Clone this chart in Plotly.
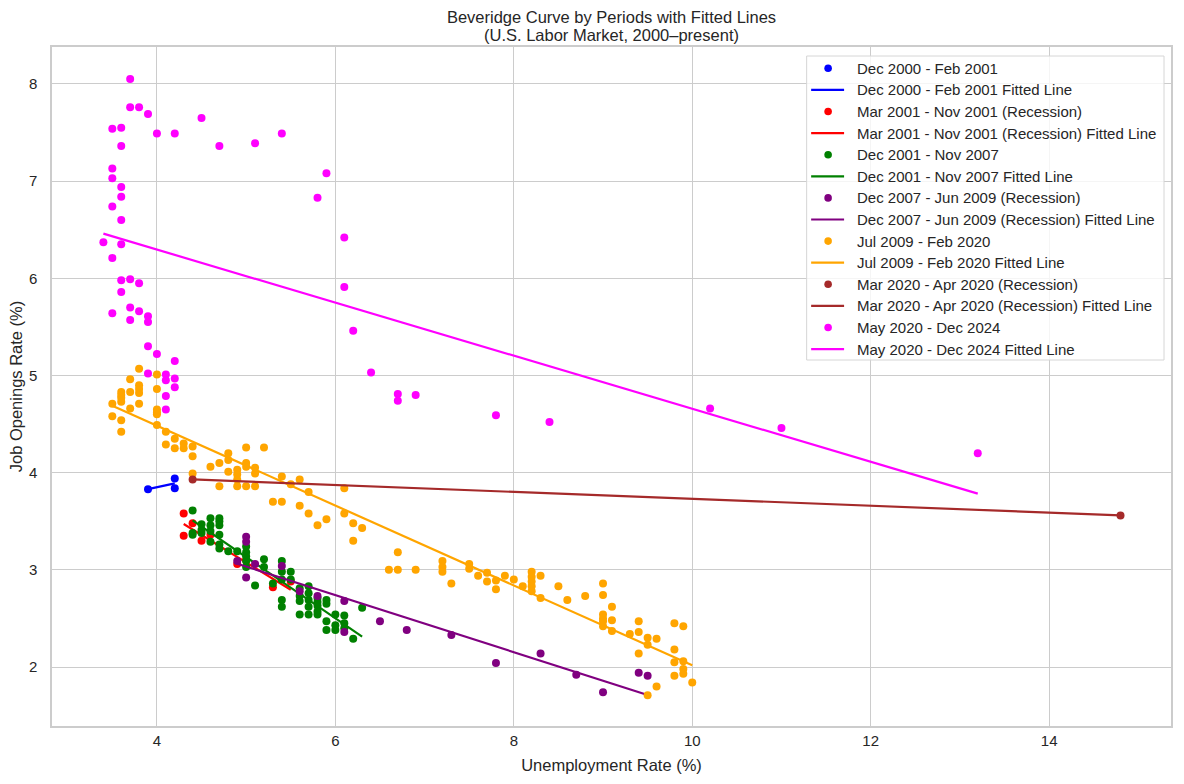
import numpy as np
import plotly.graph_objects as go

# ---- data (unemployment rate %, job openings rate %) ----
labels = [
    "Dec 2000 - Feb 2001",
    "Mar 2001 - Nov 2001 (Recession)",
    "Dec 2001 - Nov 2007",
    "Dec 2007 - Jun 2009 (Recession)",
    "Jul 2009 - Feb 2020",
    "Mar 2020 - Apr 2020 (Recession)",
    "May 2020 - Dec 2024",
]
colors = ["blue", "red", "green", "purple", "orange", "brown", "magenta"]

blue_x = [3.9, 4.2, 4.2]
blue_y = [3.83, 3.94, 3.84]

red_x = [4.3, 4.4, 4.3, 4.5, 4.6, 4.9, 5.0, 5.3, 5.5]
red_y = [3.58, 3.48, 3.35, 3.30, 3.36, 3.06, 3.10, 2.82, 2.88]

green_x = [4.4, 4.4, 4.4, 4.5, 4.5, 4.5, 4.6, 4.6, 4.6, 4.6,
           4.7, 4.7, 4.7, 4.7, 4.7, 4.7, 4.8, 4.9, 5.0, 5.0,
           5.0, 5.0, 5.0, 5.1, 5.2, 5.2, 5.3, 5.4, 5.4, 5.4,
           5.4, 5.4, 5.5, 5.5, 5.6, 5.6, 5.6, 5.6, 5.7, 5.7,
           5.7, 5.7, 5.7, 5.8, 5.8, 5.8, 5.8, 5.8, 5.9, 5.9,
           5.9, 5.9, 6.0, 6.0, 6.0, 6.1, 6.1, 6.1, 6.2, 6.3]
green_y = [3.61, 3.38, 3.36, 3.47, 3.41, 3.38, 3.53, 3.46, 3.40, 3.29,
           3.53, 3.50, 3.46, 3.36, 3.26, 3.22, 3.19, 3.19, 3.24, 3.18,
           3.14, 3.09, 3.03, 2.84, 3.11, 3.03, 2.86, 3.09, 2.98, 2.90,
           2.69, 2.62, 2.98, 2.90, 2.81, 2.73, 2.68, 2.54, 2.83, 2.76,
           2.69, 2.62, 2.54, 2.71, 2.67, 2.63, 2.57, 2.54, 2.69, 2.65,
           2.47, 2.38, 2.54, 2.43, 2.38, 2.53, 2.45, 2.40, 2.29, 2.61]

purple_x = [5.0, 5.0, 4.9, 5.1, 5.0, 5.4, 5.6, 5.8, 6.1, 6.1,
            6.5, 6.8, 7.3, 7.8, 8.3, 8.7, 9.0, 9.4, 9.5]
purple_y = [3.34, 3.29, 3.09, 3.06, 2.92, 3.04, 2.78, 2.73, 2.68, 2.36,
            2.47, 2.38, 2.33, 2.04, 2.14, 1.92, 1.74, 1.94, 1.91]

orange_x = [3.5, 3.5, 3.6, 3.6, 3.6, 3.6, 3.6, 3.6, 3.7, 3.7,
            3.7, 3.8, 3.8, 3.8, 3.8, 3.8, 4.0, 4.0, 4.0, 4.0,
            4.0, 4.0, 4.1, 4.1, 4.2, 4.2, 4.3, 4.3, 4.4, 4.4,
            4.4, 4.6, 4.7, 4.7, 4.8, 4.8, 4.8, 4.9, 4.9, 4.9,
            4.9, 5.0, 5.0, 5.0, 5.0, 5.1, 5.1, 5.1, 5.2, 5.3,
            5.4, 5.4, 5.5, 5.6, 5.6, 5.7, 5.7, 5.8, 5.9, 6.1,
            6.1, 6.2, 6.2, 6.3, 6.6, 6.7, 6.7, 6.9, 7.2, 7.2,
            7.2, 7.3, 7.5, 7.5, 7.6, 7.7, 7.7, 7.8, 7.8, 7.9,
            8.0, 8.1, 8.2, 8.2, 8.2, 8.2, 8.2, 8.3, 8.3, 8.5,
            8.6, 8.8, 9.0, 9.0, 9.0, 9.0, 9.0, 9.0, 9.1, 9.1,
            9.1, 9.3, 9.4, 9.4, 9.4, 9.5, 9.5, 9.5, 9.6, 9.6,
            9.8, 9.8, 9.8, 9.8, 9.9, 9.9, 9.9, 9.9, 10.0]
orange_y = [4.71, 4.58, 4.83, 4.80, 4.77, 4.73, 4.54, 4.42, 4.96, 4.83,
            4.66, 5.07, 4.90, 4.86, 4.82, 4.71, 5.01, 4.86, 4.65, 4.62,
            4.60, 4.49, 4.42, 4.29, 4.35, 4.25, 4.30, 4.25, 4.27, 4.17,
            3.99, 4.06, 4.10, 3.86, 4.20, 4.13, 4.01, 4.03, 3.98, 3.93,
            3.86, 4.26, 4.10, 4.06, 3.86, 4.05, 3.99, 3.86, 4.26, 3.70,
            3.96, 3.70, 3.88, 3.93, 3.66, 3.80, 3.58, 3.46, 3.52, 3.84,
            3.58, 3.48, 3.30, 3.43, 3.00, 3.00, 3.18, 3.00, 3.09, 3.03,
            2.98, 2.86, 3.06, 3.01, 2.94, 2.97, 2.88, 2.89, 2.80, 2.94,
            2.90, 2.83, 2.98, 2.93, 2.88, 2.83, 2.78, 2.94, 2.71, 2.83,
            2.69, 2.73, 2.86, 2.74, 2.54, 2.50, 2.47, 2.42, 2.62, 2.48,
            2.37, 2.34, 2.47, 2.36, 2.14, 2.30, 2.23, 1.71, 2.29, 1.80,
            2.45, 2.18, 2.05, 1.91, 2.42, 2.06, 1.98, 1.93, 1.84]

brown_x = [4.4, 14.8]
brown_y = [3.93, 3.56]

magenta_x = [3.7, 3.7, 3.8, 3.9, 3.5, 3.6, 4.0, 4.2, 4.5, 4.7,
             5.1, 5.4, 3.6, 3.5, 3.5, 3.6, 3.6, 3.5, 3.6, 5.9,
             5.8, 6.1, 3.4, 3.6, 3.5, 3.6, 3.7, 3.8, 3.6, 6.1,
             3.5, 3.7, 3.8, 3.7, 3.9, 3.9, 6.2, 3.9, 4.0, 4.2,
             3.9, 4.1, 4.1, 4.2, 4.2, 4.1, 4.1, 6.4, 6.7, 6.7,
             6.9, 7.8, 8.4, 10.2, 11.0, 13.2]
magenta_y = [8.05, 7.76, 7.76, 7.69, 7.54, 7.55, 7.49, 7.49, 7.65, 7.36,
             7.39, 7.49, 7.36, 7.13, 7.03, 6.94, 6.84, 6.74, 6.60, 7.08,
             6.83, 6.42, 6.37, 6.35, 6.21, 5.98, 5.99, 5.95, 5.86, 5.91,
             5.64, 5.70, 5.66, 5.57, 5.61, 5.55, 5.46, 5.30, 5.22, 5.15,
             5.02, 5.01, 4.95, 4.97, 4.88, 4.79, 4.65, 5.03, 4.81, 4.74,
             4.80, 4.59, 4.52, 4.66, 4.46, 4.20]

series_x = [blue_x, red_x, green_x, purple_x, orange_x, brown_x, magenta_x]
series_y = [blue_y, red_y, green_y, purple_y, orange_y, brown_y, magenta_y]

title_line1 = "Beveridge Curve by Periods with Fitted Lines"
title_line2 = "(U.S. Labor Market, 2000–present)"

# ---- layout geometry (pixels) ----
W, H = 1184, 784
ML, MR, MT, MB = 52, 11, 47, 58
PW, PH = W - ML - MR, H - MT - MB


def px_x(p):
    return (p - ML) / PW


def px_y(p):
    return (H - MB - p) / PH


# ---- figure ----
fig = go.Figure()
legend_items = []
for lab, col, xs, ys in zip(labels, colors, series_x, series_y):
    fig.add_trace(go.Scatter(
        x=xs, y=ys, mode="markers", name=lab, showlegend=False,
        marker=dict(color=col, size=8, line=dict(width=0)),
    ))
    xa = np.array(xs, dtype=float)
    ya = np.array(ys, dtype=float)
    slope, intercept = np.polyfit(xa, ya, 1)
    xl = np.array([xa.min(), xa.max()])
    fig.add_trace(go.Scatter(
        x=xl, y=slope * xl + intercept, mode="lines",
        name=lab + " Fitted Line", showlegend=False,
        line=dict(color=col, width=2.2),
    ))
    legend_items.append(("marker", col, lab))
    legend_items.append(("line", col, lab + " Fitted Line"))

# ---- legend (framed box in the upper-right corner) ----
txt = "#262626"
font_family = "Liberation Sans, Arial, sans-serif"
shapes = []
annotations = []
box_l, box_r, box_t, box_b = 808, 1166, 56, 360
shapes.append(dict(
    type="rect", xref="paper", yref="paper",
    x0=px_x(box_l), x1=px_x(box_r), y0=px_y(box_b), y1=px_y(box_t),
    fillcolor="rgba(255,255,255,0.8)", line=dict(color="#d6d6d6", width=1),
    layer="above",
))
row0, step = 68.3, 21.6
for i, (kind, col, text) in enumerate(legend_items):
    cy = row0 + i * step
    if kind == "marker":
        shapes.append(dict(
            type="circle", xref="paper", yref="paper",
            x0=px_x(829.5 - 3.8), x1=px_x(829.5 + 3.8),
            y0=px_y(cy + 3.8), y1=px_y(cy - 3.8),
            fillcolor=col, line=dict(width=0), layer="above",
        ))
    else:
        shapes.append(dict(
            type="line", xref="paper", yref="paper",
            x0=px_x(812.5), x1=px_x(845.5), y0=px_y(cy), y1=px_y(cy),
            line=dict(color=col, width=2.2), layer="above",
        ))
    annotations.append(dict(
        text=text, xref="paper", yref="paper", x=px_x(856.5), y=px_y(cy),
        xanchor="left", yanchor="middle", showarrow=False,
        font=dict(size=15, color=txt, family=font_family),
    ))

# second title line
annotations.append(dict(
    text=title_line2, xref="paper", yref="paper", x=0.5, y=px_y(35),
    xanchor="center", yanchor="middle", showarrow=False,
    font=dict(size=16.5, color=txt, family=font_family),
))

grid = "#cccccc"
fig.update_layout(
    width=W, height=H,
    margin=dict(l=ML, r=MR, t=MT, b=MB),
    paper_bgcolor="white", plot_bgcolor="white",
    font=dict(family=font_family, size=15, color=txt),
    title=dict(
        text=title_line1,
        x=0.5, xref="paper", xanchor="center", y=1 - 17 / H, yanchor="middle", yref="container",
        font=dict(size=16.5, color=txt),
    ),
    showlegend=False,
    shapes=shapes,
    annotations=annotations,
)
fig.update_xaxes(
    range=[2.824, 15.366], dtick=2, tick0=0,
    showgrid=True, gridcolor=grid, gridwidth=1,
    zeroline=False, showline=True, linecolor=grid, linewidth=1.5, mirror=True,
    ticks="", tickfont=dict(size=15, color=txt),
    title=dict(text="Unemployment Rate (%)", font=dict(size=16.5, color=txt), standoff=12),
)
fig.update_yaxes(
    range=[1.393, 8.38], dtick=1, tick0=0,
    showgrid=True, gridcolor=grid, gridwidth=1,
    zeroline=False, showline=True, linecolor=grid, linewidth=1.5, mirror=True,
    ticks="", tickfont=dict(size=15, color=txt), ticklabelstandoff=10,
    title=dict(text="Job Openings Rate (%)", font=dict(size=16.5, color=txt), standoff=2),
)

fig.write_html("out.html")
